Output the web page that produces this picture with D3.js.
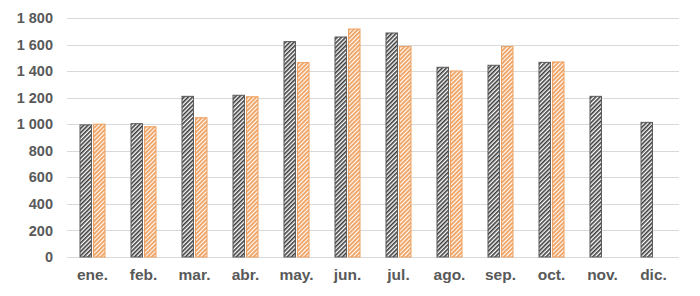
<!DOCTYPE html>
<html>
<head>
<meta charset="utf-8">
<script src="https://cdn.jsdelivr.net/npm/d3@7"></script>
<style>
  body { margin: 0; background: #fff; }
  svg { display: block; font-family: Arial, "Liberation Sans", sans-serif; }
</style>
</head>
<body>
<div id="chart"></div>
<script>
const months = ["ene.", "feb.", "mar.", "abr.", "may.", "jun.", "jul.", "ago.", "sep.", "oct.", "nov.", "dic."];
const seriesA = [995, 1004, 1210, 1218, 1622, 1657, 1687, 1429, 1444, 1466, 1210, 1014];
const seriesB = [1000, 981, 1049, 1207, 1464, 1717, 1586, 1401, 1586, 1469, null, null];
const yTicks = [0, 200, 400, 600, 800, 1000, 1200, 1400, 1600, 1800];

const width = 700;
const height = 296;
const margin = { top: 18, right: 21, bottom: 39, left: 67 };

const svg = d3.select("#chart")
	.append("svg")
	.attr("width", width)
	.attr("height", height);

// hatch patterns
const defs = svg.append("defs");
function hatch(id, color, w) {
	const p = defs.append("pattern")
		.attr("id", id)
		.attr("patternUnits", "userSpaceOnUse")
		.attr("width", 3)
		.attr("height", 3)
		.attr("patternTransform", "rotate(45)");
	p.append("rect").attr("width", 3).attr("height", 3).attr("fill", "#fff");
	p.append("rect").attr("width", w).attr("height", 3).attr("fill", color);
}
hatch("hatchDark", "#3a3a3a", 1.6);
hatch("hatchOrange", "#f0a364", 1.9);

const x = d3.scaleBand()
	.domain(months)
	.range([margin.left, width - margin.right]);

const inner = d3.scaleBand()
	.domain(["a", "b"])
	.range([x.bandwidth() / 2 - 13, x.bandwidth() / 2 + 13])
	.paddingInner(0.08);

const y = d3.scaleLinear()
	.domain([0, 1800])
	.range([height - margin.bottom, margin.top]);

// grid lines
svg.append("g")
	.attr("class", "grid-lines")
	.selectAll("line")
	.data(yTicks)
	.join("line")
	.attr("x1", margin.left)
	.attr("x2", width - margin.right)
	.attr("y1", d => Math.round(y(d)) + 0.5)
	.attr("y2", d => Math.round(y(d)) + 0.5)
	.attr("stroke", "#d9d9d9")
	.attr("stroke-width", 1);

// y axis labels
const yAxis = d3.axisLeft(y)
	.tickValues(yTicks)
	.tickSize(0)
	.tickPadding(0)
	.tickFormat(d => d3.format(",")(d).replace(",", " "));

svg.append("g")
	.attr("class", "y-axis")
	.attr("transform", `translate(${margin.left - 14},0)`)
	.call(yAxis)
	.call(g => g.select(".domain").remove())
	.selectAll("text")
	.attr("fill", "#595959")
	.attr("font-size", 14.5)
	.attr("font-weight", "bold");

// x axis labels
const xAxis = d3.axisBottom(x).tickSize(0).tickPadding(0);
svg.append("g")
	.attr("class", "x-axis")
	.attr("transform", `translate(0,${height - margin.bottom + 12})`)
	.call(xAxis)
	.call(g => g.select(".domain").remove())
	.selectAll("text")
	.attr("fill", "#595959")
	.attr("font-size", 15.5)
	.attr("font-weight", "bold");

// bars
const groups = [
	{ key: "a", values: seriesA, fill: "url(#hatchDark)", stroke: "#595959" },
	{ key: "b", values: seriesB, fill: "url(#hatchOrange)", stroke: "#eea060" }
];

for (const s of groups) {
	svg.append("g")
		.attr("class", "bars-" + s.key)
		.selectAll("rect")
		.data(months.map((m, i) => ({ m, v: s.values[i] })).filter(d => d.v != null))
		.join("rect")
		.attr("x", d => x(d.m) + inner(s.key) + 0.5)
		.attr("width", inner.bandwidth() - 1)
		.attr("y", d => y(d.v))
		.attr("height", d => y(0) - y(d.v))
		.attr("fill", s.fill)
		.attr("stroke", s.stroke)
		.attr("stroke-width", 1);
}
</script>
</body>
</html>
